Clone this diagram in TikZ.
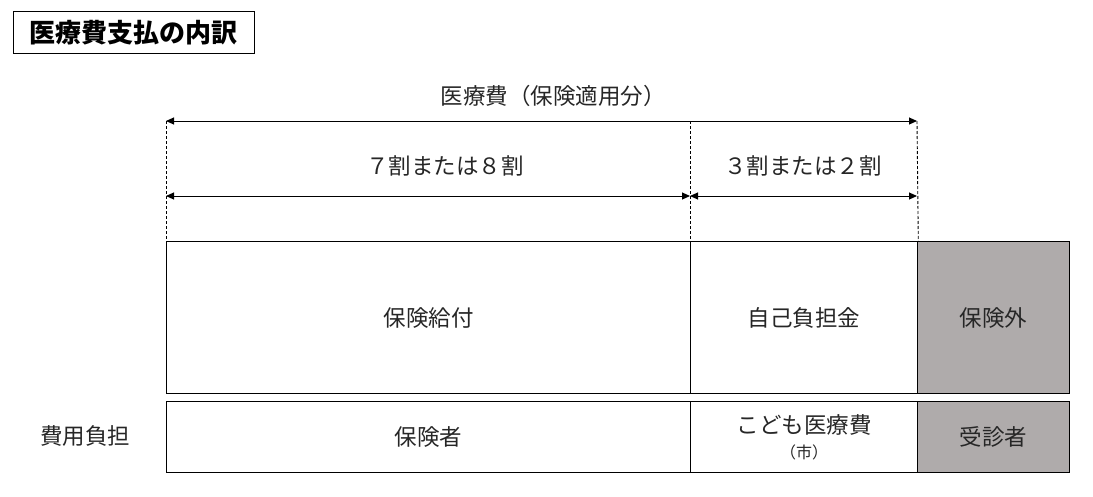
\documentclass[tikz,border=0pt]{standalone}
\usepackage{fontspec}
\setmainfont{Noto Sans CJK JP}
\usetikzlibrary{arrows.meta}
\definecolor{outgray}{RGB}{175,171,171}
\definecolor{txtgray}{RGB}{38,38,38}
\begin{document}
\begin{tikzpicture}[x=1pt, y=-1pt,
                    every node/.style={font=\fontsize{22.5}{25}\selectfont, text=txtgray},
                    cell/.style={draw, line width=1.3pt, anchor=north west, inner sep=0pt},
                    dimarrow/.style={{Triangle[length=8pt,width=7pt]}-{Triangle[length=8pt,width=7pt]}, line width=1pt},
                    guide/.style={dashed, dash pattern=on 3pt off 2pt, line width=0.9pt},
                ]
                \useasboundingbox (0,0) rectangle (1093,496);
                % title
                \node[cell, line width=1pt, minimum width=241pt, minimum height=42pt,
                      font=\fontsize{26}{28}\selectfont\bfseries, text=black] (title) at (13,11) {医療費支払の内訳};
                % upper row
                \node[cell, minimum width=524pt, minimum height=152pt] (kyufu) at (166,241) {保険給付};
                \node[cell, minimum width=227pt, minimum height=152pt] (jiko) at (690,241) {自己負担金};
                \node[cell, fill=outgray, minimum width=152pt, minimum height=152pt] (gai) at (917,241) {保険外};
                % lower row
                \node[cell, minimum width=524pt, minimum height=71pt] (hoken) at (166,401) {保険者};
                \node[cell, minimum width=227pt, minimum height=71pt, align=center] (kodomo) at (690,401)
                    {こども医療費\\[0pt]{\fontsize{16}{17}\selectfont（市）}};
                \node[cell, fill=outgray, minimum width=152pt, minimum height=71pt] (jushin) at (917,401) {受診者};
                \node (futan) at (85,436) {費用負担};
                % dimension lines
                \coordinate (ta) at (166,121);
                \coordinate (tb) at (917,121);
                \coordinate (ma) at (166,196);
                \coordinate (mb) at (690,196);
                \coordinate (mc) at (917,196);
                \draw[guide] (ta) -- (kyufu.north west);
                \draw[guide] (mb |- ta) -- (jiko.north west);
                \draw[guide] (tb) -- (jiko.north east);
                \draw[dimarrow] (ta) -- (tb);
                \draw[dimarrow] (ma) -- (mb);
                \draw[dimarrow] (mb) -- (mc);
                \node (zenbu) at (553,96) {医療費（保険適用分）};
                \node (nana) at (445,166) {７割または８割};
                \node (san) at (803,166) {３割または２割};
                \end{tikzpicture}
\end{document}
